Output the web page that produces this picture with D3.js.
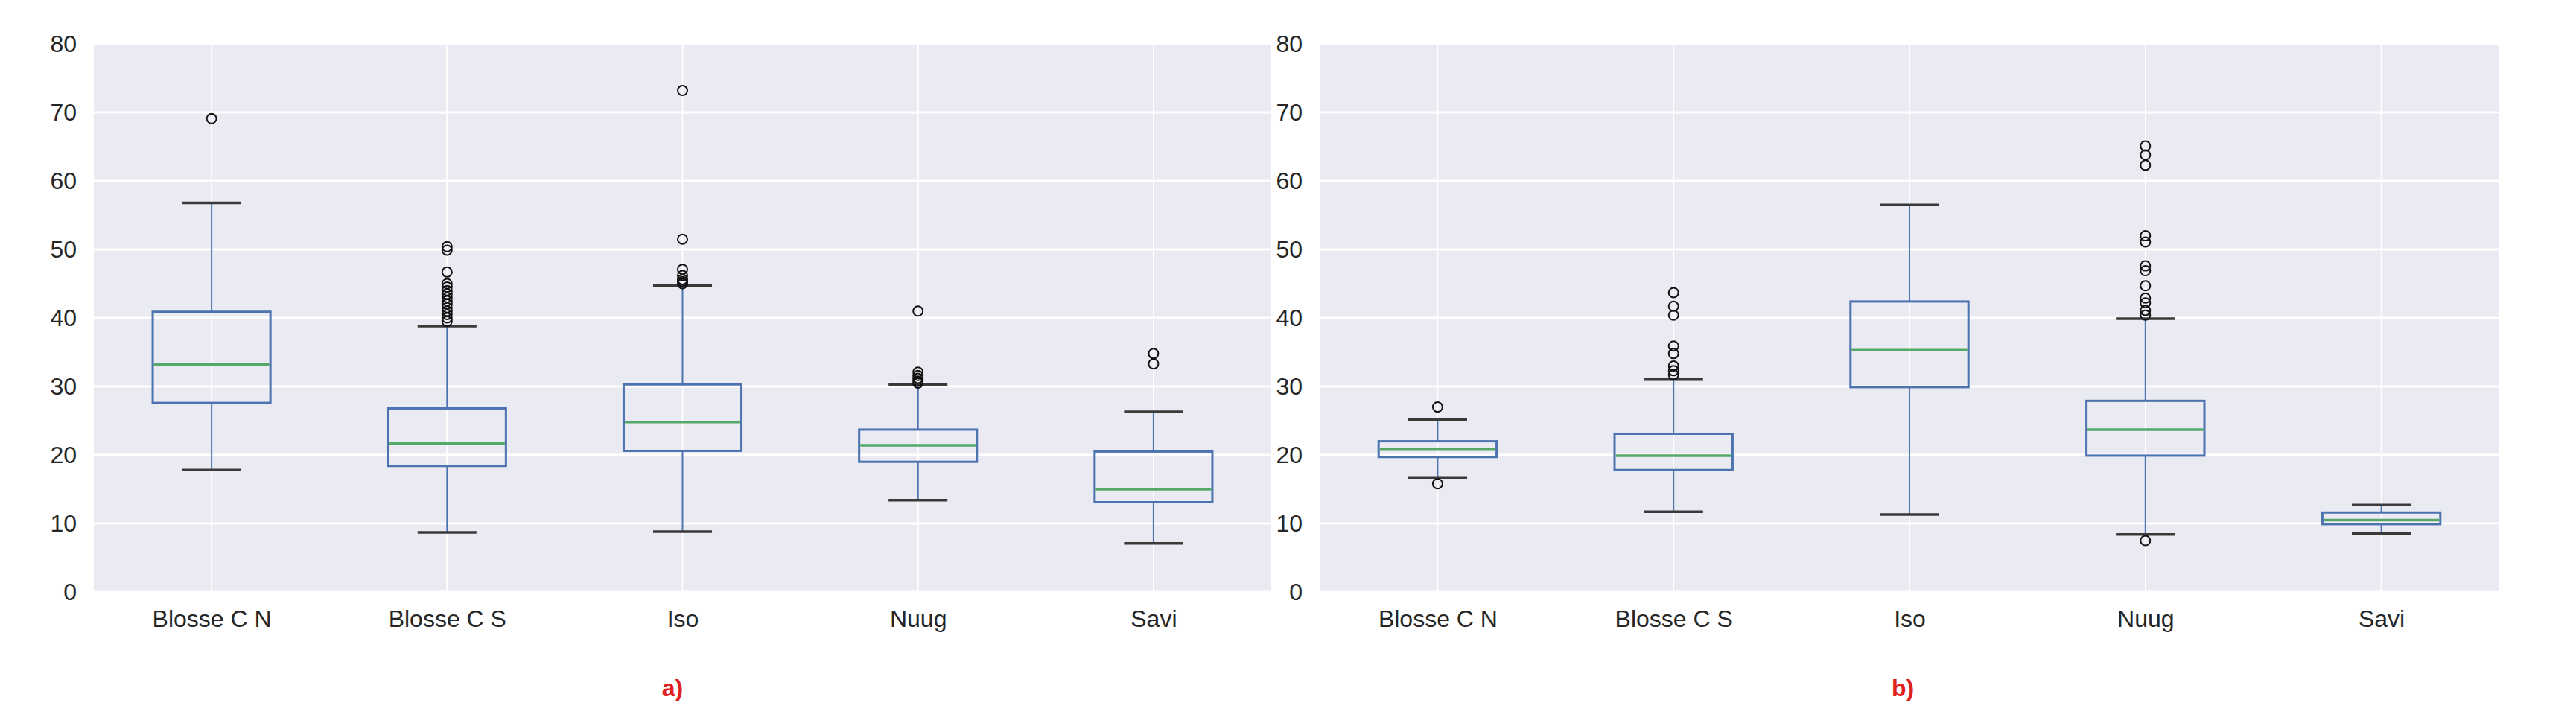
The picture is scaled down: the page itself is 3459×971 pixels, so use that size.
<!DOCTYPE html>
<html>
<head>
<meta charset="utf-8">
<script src="https://cdn.jsdelivr.net/npm/d3@7"></script>
<style>
  html, body { margin: 0; padding: 0; background: #ffffff; }
  svg { display: block; }
  text { font-family: "Liberation Sans", Arial, Helvetica, sans-serif; }
</style>
</head>
<body>
<svg id="chart" width="3459" height="971"></svg>
<script>
// ---------------- data ----------------
const categories = ["Blosse C N", "Blosse C S", "Iso", "Nuug", "Savi"];
const yTicks = [0, 10, 20, 30, 40, 50, 60, 70, 80];
const panelLabels = ["a)", "b)"];

// panel a)
const aLow  = [17.8, 8.7, 8.8, 13.4, 7.1];
const aQ1   = [27.6, 18.4, 20.6, 19.0, 13.1];
const aMed  = [33.2, 21.7, 24.8, 21.4, 15.0];
const aQ3   = [40.9, 26.8, 30.3, 23.7, 20.5];
const aHigh = [56.8, 38.8, 44.7, 30.3, 26.3];
const aFliers = [
  [69.1],
  [50.4, 49.9, 46.7, 45.0, 44.5, 44.0, 43.5, 43.0, 42.5, 42.0, 41.5, 41.0, 40.5, 40.0, 39.5],
  [73.2, 51.5, 47.1, 46.2, 45.6, 45.3, 45.0],
  [41.0, 32.1, 31.6, 31.2, 30.8, 30.5],
  [34.8, 33.3]
];

// panel b)
const bLow  = [16.7, 11.7, 11.3, 8.4, 8.5];
const bQ1   = [19.7, 17.8, 29.9, 19.9, 9.9];
const bMed  = [20.8, 19.9, 35.3, 23.7, 10.5];
const bQ3   = [22.0, 23.1, 42.4, 27.9, 11.6];
const bHigh = [25.2, 31.0, 56.5, 39.9, 12.7];
const bFliers = [
  [27.0, 15.8],
  [43.7, 41.7, 40.4, 35.9, 34.8, 33.0, 32.3, 31.7],
  [],
  [65.1, 63.8, 62.3, 52.0, 51.1, 47.6, 46.9, 44.7, 42.9, 42.2, 41.1, 40.4, 7.5],
  []
];

// ---------------- layout & style ----------------
const W = 3459, H = 971;
const plotTop = 59, plotBottom = 795;
const panels = [
  { x0: 126, x1: 1707, low: aLow, q1: aQ1, med: aMed, q3: aQ3, high: aHigh, fliers: aFliers, label: panelLabels[0], labelX: 903 },
  { x0: 1772, x1: 3356, low: bLow, q1: bQ1, med: bMed, q3: bQ3, high: bHigh, fliers: bFliers, label: panelLabels[1], labelX: 2555 }
];
const bgColor = "#EAEAF2";
const boxColor = "#4C72B0";
const medColor = "#55A868";
const capColor = "#3a3a3a";
const textColor = "#262626";

const svg = d3.select("#chart");
svg.append("rect").attr("width", W).attr("height", H).attr("fill", "#ffffff");

const y = d3.scaleLinear().domain([0, 80]).range([plotBottom, plotTop]);

panels.forEach(p => {
  const x = d3.scalePoint().domain(categories).range([p.x0, p.x1]).padding(0.5);
  const step = x.step();
  const boxW = step * 0.5;
  const capW = step * 0.25;
  const g = svg.append("g");

  // background
  g.append("rect")
    .attr("x", p.x0).attr("y", plotTop)
    .attr("width", p.x1 - p.x0).attr("height", plotBottom - plotTop)
    .attr("fill", bgColor);

  // horizontal grid
  g.append("g").selectAll("line").data(yTicks).join("line")
    .attr("x1", p.x0).attr("x2", p.x1)
    .attr("y1", d => y(d)).attr("y2", d => y(d))
    .attr("stroke", "#ffffff").attr("stroke-width", 3);

  // vertical grid
  g.append("g").selectAll("line").data(categories).join("line")
    .attr("x1", d => x(d)).attr("x2", d => x(d))
    .attr("y1", plotTop).attr("y2", plotBottom)
    .attr("stroke", "#ffffff").attr("stroke-width", 1.8);

  // y axis labels
  const yAxis = d3.axisLeft(y).tickValues(yTicks).tickSize(0).tickPadding(23);
  const ya = g.append("g").attr("transform", `translate(${p.x0},0)`).call(yAxis);
  ya.select(".domain").remove();
  ya.selectAll("text").attr("fill", textColor).style("font-size", "32px")
    .style("font-family", "'Liberation Sans', Arial, sans-serif");

  // x axis labels
  const xAxis = d3.axisBottom(x).tickSize(0).tickPadding(24);
  const xa = g.append("g").attr("transform", `translate(0,${plotBottom})`).call(xAxis);
  xa.select(".domain").remove();
  xa.selectAll("text").attr("fill", textColor).style("font-size", "32px")
    .style("font-family", "'Liberation Sans', Arial, sans-serif");

  categories.forEach((c, i) => {
    const cx = x(c);
    const bg = g.append("g");
    // whiskers
    bg.append("line").attr("x1", cx).attr("x2", cx)
      .attr("y1", y(p.q3[i])).attr("y2", y(p.high[i]))
      .attr("stroke", boxColor).attr("stroke-width", 2);
    bg.append("line").attr("x1", cx).attr("x2", cx)
      .attr("y1", y(p.q1[i])).attr("y2", y(p.low[i]))
      .attr("stroke", boxColor).attr("stroke-width", 2);
    // caps
    [p.high[i], p.low[i]].forEach(v => {
      bg.append("line").attr("x1", cx - capW / 2).attr("x2", cx + capW / 2)
        .attr("y1", y(v)).attr("y2", y(v))
        .attr("stroke", capColor).attr("stroke-width", 3.5);
    });
    // box
    bg.append("rect")
      .attr("x", cx - boxW / 2).attr("y", y(p.q3[i]))
      .attr("width", boxW).attr("height", y(p.q1[i]) - y(p.q3[i]))
      .attr("fill", "none").attr("stroke", boxColor).attr("stroke-width", 3);
    // median
    bg.append("line").attr("x1", cx - boxW / 2 + 1.5).attr("x2", cx + boxW / 2 - 1.5)
      .attr("y1", y(p.med[i])).attr("y2", y(p.med[i]))
      .attr("stroke", medColor).attr("stroke-width", 3.5);
    // fliers
    bg.selectAll("circle").data(p.fliers[i]).join("circle")
      .attr("cx", cx).attr("cy", d => y(d)).attr("r", 6.5)
      .attr("fill", "none").attr("stroke", "#111111").attr("stroke-width", 2);
  });

  // panel label
  svg.append("text")
    .attr("x", p.labelX).attr("y", 935)
    .attr("text-anchor", "middle")
    .attr("fill", "#e0201e")
    .style("font-size", "32px").style("font-weight", "bold")
    .text(p.label);
});
</script>
</body>
</html>
